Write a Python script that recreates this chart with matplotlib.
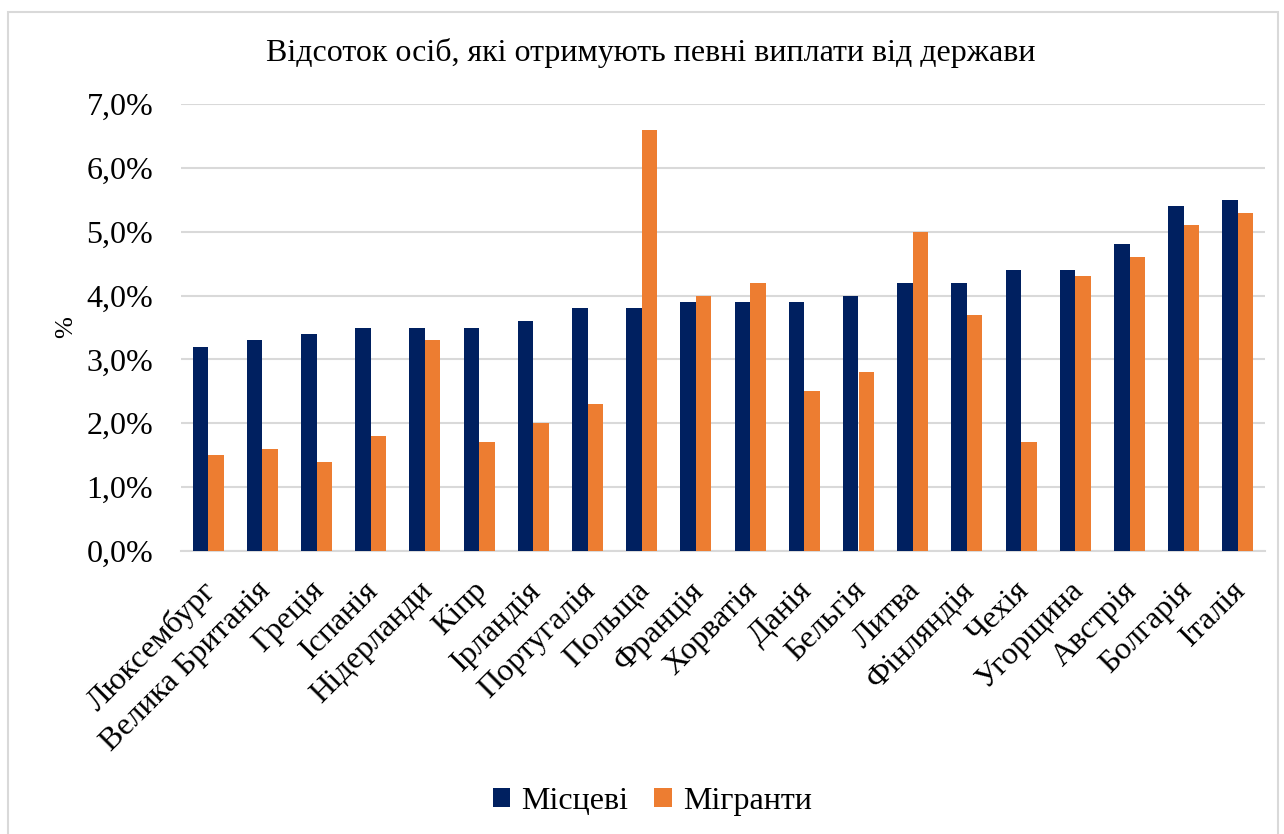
import matplotlib.pyplot as plt
import matplotlib.transforms as mtransforms
import numpy as np
from matplotlib.patches import Rectangle
from matplotlib.ticker import FuncFormatter

countries = ["Люксембург", "Велика Британія", "Греція", "Іспанія", "Нідерланди",
             "Кіпр", "Ірландія", "Португалія", "Польща", "Франція", "Хорватія",
             "Данія", "Бельгія", "Литва", "Фінляндія", "Чехія", "Угорщина",
             "Австрія", "Болгарія", "Італія"]
locals_pct = [3.2, 3.3, 3.4, 3.5, 3.5, 3.5, 3.6, 3.8, 3.8, 3.9, 3.9,
              3.9, 4.0, 4.2, 4.2, 4.4, 4.4, 4.8, 5.4, 5.5]
migrants_pct = [1.5, 1.6, 1.4, 1.8, 3.3, 1.7, 2.0, 2.3, 6.6, 4.0, 4.2,
                2.5, 2.8, 5.0, 3.7, 1.7, 4.3, 4.6, 5.1, 5.3]

plt.rcParams['font.family'] = ['Liberation Serif', 'DejaVu Serif']

fig = plt.figure(figsize=(12.84, 8.34), dpi=100)
ax = fig.add_axes([181 / 1284, 0.3393, 1084 / 1284, 0.536])

# chart border
fig.patches.append(Rectangle((8 / 1284, -0.01), 1270 / 1284, (834 - 12) / 834 + 0.01,
                             transform=fig.transFigure, fill=False,
                             edgecolor="#d9d9d9", linewidth=1.5))

x = np.arange(len(countries))
w = 0.285
ax.bar(x - w / 2, locals_pct, w, color="#002060", label="Місцеві", zorder=3)
ax.bar(x + w / 2, migrants_pct, w, color="#ED7D31", label="Мігранти", zorder=3)

ax.set_xlim(-0.5, len(countries) - 0.5)
ax.set_ylim(0, 7)
ax.set_yticks(np.arange(0, 7.5, 1))
ax.yaxis.set_major_formatter(FuncFormatter(lambda v, p: f"{v:.1f}%".replace(".", ",")))
ax.grid(axis="y", color="#d9d9d9", linewidth=1.5, zorder=0)
for s in ["top", "right", "left"]:
    ax.spines[s].set_visible(False)
ax.spines["bottom"].set_color("#d9d9d9")
ax.spines["bottom"].set_linewidth(1.5)
ax.tick_params(axis="y", length=0, labelsize=23, pad=20)
ax.tick_params(axis="x", length=0, labelsize=23, pad=8)
ax.set_xticks(x)
ax.set_xticklabels(countries, rotation=45, ha="right", rotation_mode="anchor")

# shift rotated labels a bit down-left, like Excel does
offset = mtransforms.ScaledTranslation(-7 / 100, -14 / 100, fig.dpi_scale_trans)
for lbl in ax.get_xticklabels():
    lbl.set_transform(lbl.get_transform() + offset)

ax.set_ylabel("%", fontsize=19, labelpad=7)
fig.text(0.507, 0.937, "Відсоток осіб, які отримують певні виплати від держави",
         ha="center", va="center", fontsize=23)

fig.legend(loc="center", bbox_to_anchor=(0.508, 0.039), ncol=2, frameon=False,
           fontsize=23, handlelength=0.55, handleheight=0.55, handletextpad=0.35,
           columnspacing=0.8)

fig.savefig("out.png", dpi=100)
